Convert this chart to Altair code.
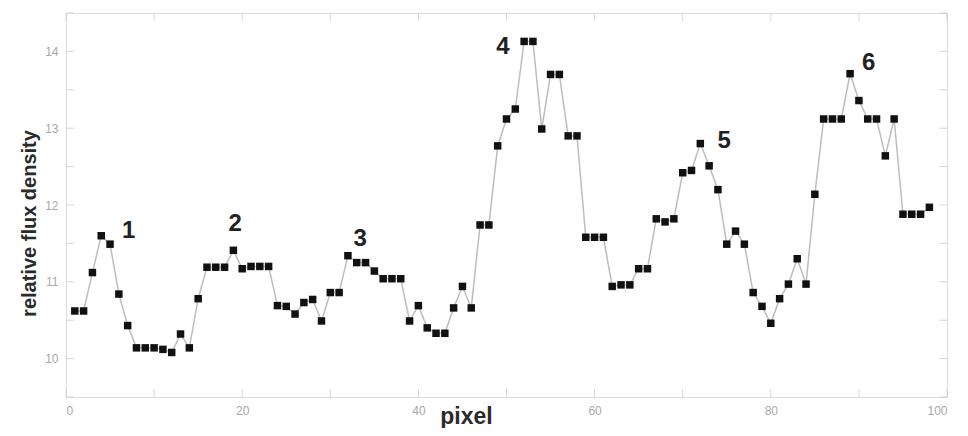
import altair as alt
import pandas as pd

pixel = list(range(1, 99))
flux = [
    10.62, 10.62, 11.12, 11.60, 11.49, 10.84, 10.43, 10.14, 10.14, 10.14,
    10.12, 10.08, 10.32, 10.14, 10.78, 11.19, 11.19, 11.19, 11.41, 11.17,
    11.20, 11.20, 11.20, 10.69, 10.68, 10.58, 10.73, 10.77, 10.49, 10.86,
    10.86, 11.34, 11.25, 11.25, 11.14, 11.04, 11.04, 11.04, 10.49, 10.69,
    10.40, 10.33, 10.33, 10.66, 10.94, 10.66, 11.74, 11.74, 12.77, 13.12,
    13.25, 14.13, 14.13, 12.99, 13.70, 13.70, 12.90, 12.90, 11.58, 11.58,
    11.58, 10.94, 10.96, 10.96, 11.17, 11.17, 11.82, 11.78, 11.82, 12.42,
    12.45, 12.80, 12.51, 12.20, 11.49, 11.66, 11.49, 10.86, 10.68, 10.46,
    10.78, 10.97, 11.30, 10.97, 12.14, 13.12, 13.12, 13.12, 13.71, 13.36,
    13.12, 13.12, 12.64, 13.12, 11.88, 11.88, 11.88, 11.97,
]

peak_labels = ["1", "2", "3", "4", "5", "6"]
peak_x = [7.1, 19.2, 33.4, 49.6, 74.7, 91.1]
peak_y = [11.66, 11.75, 11.56, 14.06, 12.83, 13.85]

x_ticks = [0, 10, 20, 30, 40, 50, 60, 70, 80, 90, 100]
y_ticks = [9.5, 10, 10.5, 11, 11.5, 12, 12.5, 13, 13.5, 14, 14.5]

df = pd.DataFrame({"pixel": pixel, "flux": flux})
lab = pd.DataFrame({"label": peak_labels, "x": peak_x, "y": peak_y})
xt = pd.DataFrame({"t": x_ticks})
yt = pd.DataFrame({"t": y_ticks})

W, H = 881, 384

xscale = alt.Scale(domain=[0, 100], nice=False, zero=False)
yscale = alt.Scale(domain=[9.5, 14.5], nice=False, zero=False)

xaxis = alt.Axis(
    title="pixel", values=[0, 20, 40, 60, 80, 100], format="d",
    domain=False, ticks=False, grid=False, labelFontSize=12, labelColor="#a8a8a8",
    labelPadding=8, labelFont="Liberation Sans",
    titleFont="Liberation Sans", titleFontSize=23, titleFontWeight="bold",
    titleColor="#2a2a2a", titleX=400, titleY=26, titleBaseline="alphabetic",
    titleAnchor="middle",
)
yaxis = alt.Axis(
    title="relative flux density", values=[10, 11, 12, 13, 14], format="d",
    domain=False, ticks=False, grid=False, labelFontSize=12, labelColor="#a8a8a8",
    labelPadding=8, labelFont="Liberation Sans",
    titleFont="Liberation Sans", titleFontSize=20, titleFontWeight="bold",
    titleColor="#2a2a2a", titleX=-37, titleY=210, titleBaseline="middle",
    titleAngle=-90, titleAnchor="middle",
)

base = alt.Chart(df)

line = base.mark_line(color="#bdbdbd", strokeWidth=1.5).encode(
    x=alt.X("pixel:Q", scale=xscale, axis=xaxis),
    y=alt.Y("flux:Q", scale=yscale, axis=yaxis),
)
pts = base.mark_square(color="#111111", size=56, opacity=1).encode(
    x=alt.X("pixel:Q", scale=xscale),
    y=alt.Y("flux:Q", scale=yscale),
)
text = alt.Chart(lab).mark_text(
    font="Liberation Sans", fontSize=24, fontWeight="bold", color="#222222",
    align="center", baseline="middle",
).encode(
    x=alt.X("x:Q", scale=xscale),
    y=alt.Y("y:Q", scale=yscale),
    text="label:N",
)

tick_col = "#c4c4c4"
xt_bottom = alt.Chart(xt).mark_tick(color=tick_col, size=8, thickness=1, orient="vertical").encode(
    x=alt.X("t:Q", scale=xscale), y=alt.value(H - 4)
)
xt_top = alt.Chart(xt).mark_tick(color=tick_col, size=8, thickness=1, orient="vertical").encode(
    x=alt.X("t:Q", scale=xscale), y=alt.value(4)
)
yt_left = alt.Chart(yt).mark_tick(color=tick_col, size=8, thickness=1, orient="horizontal").encode(
    y=alt.Y("t:Q", scale=yscale), x=alt.value(4)
)
yt_right = alt.Chart(yt).mark_tick(color=tick_col, size=8, thickness=1, orient="horizontal").encode(
    y=alt.Y("t:Q", scale=yscale), x=alt.value(W - 4)
)

chart = alt.layer(xt_bottom, xt_top, yt_left, yt_right, line, pts, text).properties(
    width=W, height=H,
    autosize=alt.AutoSizeParams(type="none"),
    padding={"left": 58, "top": 5, "right": 13, "bottom": 31},
).configure_view(
    stroke="#c8c8c8", strokeWidth=2, fill="white"
).configure(background="white")

chart.save("out.html", embed_options={"renderer": "svg", "actions": False})
